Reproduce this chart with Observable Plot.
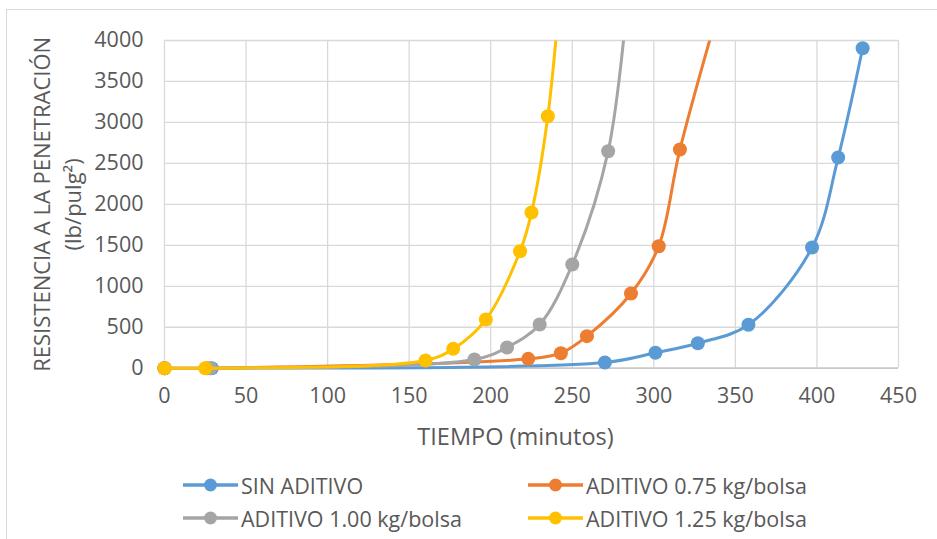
<!DOCTYPE html>
<html><head><meta charset="utf-8">
<script src="https://cdn.jsdelivr.net/npm/d3@7"></script>
<script src="https://cdn.jsdelivr.net/npm/@observablehq/plot@0.6"></script>
<style>
body{margin:0;background:#fff;font-family:"Open Sans",sans-serif;}
#wrap{position:relative;width:937px;height:539px;overflow:hidden;background:#fff;}
#frame{position:absolute;left:6px;top:9px;width:960px;height:560px;border:1px solid #d9d9d9;z-index:2;pointer-events:none;}
#chart{position:absolute;left:0;top:0;}
.leg{position:absolute;display:flex;align-items:center;font-size:21.5px;color:#595959;white-space:nowrap;height:30px;}
.leg svg{margin-right:3px;}
</style></head>
<body><div id="wrap"><div id="frame"></div><div id="chart"></div><div id="legend"></div></div>
<script>
// ---- data ----
const seriesNames = ["SIN ADITIVO", "ADITIVO 0.75 kg/bolsa", "ADITIVO 1.00 kg/bolsa", "ADITIVO 1.25 kg/bolsa"];
const seriesColors = ["#5B9BD5", "#ED7D31", "#A5A5A5", "#FFC000"];

const timeSin = [0, 29, 270, 301, 327, 358, 397, 413, 428];
const valSin  = [0, 0, 70, 188, 305, 530, 1473, 2571, 3905];

const time075 = [0, 26, 223, 243, 259, 286, 303, 316, 345];
const val075  = [0, 0, 114, 183, 391, 912, 1489, 2669, 4750];

const time100 = [0, 28, 190, 210, 230, 250, 272, 285];
const val100  = [0, 0, 106, 253, 533, 1266, 2649, 4750];

const time125 = [0, 25, 160, 177, 197, 218, 225, 235, 245];
const val125  = [0, 0, 94, 236, 594, 1428, 1900, 3076, 5200];

const xTicks = [0, 50, 100, 150, 200, 250, 300, 350, 400, 450];
const yTicks = [0, 500, 1000, 1500, 2000, 2500, 3000, 3500, 4000];
const xTitle = "TIEMPO (minutos)";
const yTitle = "RESISTENCIA A LA PENETRACIÓN\n(lb/pulg²)";

// ---- build table ----
const seriesData = [[timeSin, valSin], [time075, val075], [time100, val100], [time125, val125]];
const rows = [];
seriesData.forEach(([ts, vs], i) => ts.forEach((t, j) => rows.push({series: seriesNames[i], t, v: vs[j]})));

const yMax = 4000;
const textColor = "#595959";

const seriesMarks = seriesNames.flatMap((name, i) => [
  Plot.line(rows.filter(d => d.series === name), {x: "t", y: "v", stroke: seriesColors[i], strokeWidth: 3, curve: "catmull-rom", className: "series-line"}),
  Plot.dot(rows.filter(d => d.series === name && d.v <= yMax), {x: "t", y: "v", fill: seriesColors[i], r: 7, stroke: "none"})
]);

const chart = Plot.plot({
  width: 937, height: 460,
  marginLeft: 164, marginRight: 39, marginTop: 40, marginBottom: 92.3,
  style: {fontFamily: "'Open Sans', sans-serif", fontSize: "21.5px", color: textColor, background: "transparent", overflow: "visible"},
  x: {domain: [0, 450]},
  y: {domain: [0, yMax]},
  marks: [
    Plot.gridX(xTicks, {stroke: "#d9d9d9", strokeOpacity: 1, strokeWidth: 1.3}),
    Plot.gridY(yTicks, {stroke: "#d9d9d9", strokeOpacity: 1, strokeWidth: 1.3}),
    Plot.ruleY([0], {stroke: "#bfbfbf", strokeWidth: 1.3}),
    ...seriesMarks,
    Plot.axisX(xTicks, {tickSize: 0, tickPadding: 20, label: null, fontSize: 21.5, fill: textColor, tickFormat: d => String(d)}),
    Plot.axisY(yTicks, {tickSize: 0, tickPadding: 21, label: null, fontSize: 21.5, fill: textColor, tickFormat: d => String(d)}),
    Plot.text([xTitle], {text: d => d, frameAnchor: "bottom", dy: 77, dx: -16, fontSize: 23.5, fill: textColor, textAnchor: "middle"}),
    Plot.text([yTitle], {text: d => d, frameAnchor: "left", dx: -108.5, rotate: -90, lineHeight: 1.4, fontSize: 22, fill: textColor, textAnchor: "middle", lineAnchor: "middle"})
  ]
});

// clip the series lines at the top of the plot area only
const svg = d3.select(chart);
const yRange = chart.scale("y").range;
svg.append("defs").append("clipPath").attr("id", "topclip")
  .append("rect").attr("x", 0).attr("y", Math.min(...yRange)).attr("width", 937).attr("height", 460);
svg.selectAll("g.series-line").attr("clip-path", "url(#topclip)");
document.getElementById("chart").appendChild(chart);

// ---- legend ----
const legendPos = [[183, 470], [528, 470], [183, 503], [528, 503]];
const legend = document.getElementById("legend");
seriesNames.forEach((name, i) => {
  const div = document.createElement("div");
  div.className = "leg";
  div.style.left = legendPos[i][0] + "px";
  div.style.top = legendPos[i][1] + "px";
  div.innerHTML = `<svg width="55" height="20"><line x1="0" x2="55" y1="10" y2="10" stroke="${seriesColors[i]}" stroke-width="3.5"/><circle cx="27.5" cy="10" r="6.5" fill="${seriesColors[i]}"/></svg><span>${name}</span>`;
  legend.appendChild(div);
});
</script>
</body></html>
